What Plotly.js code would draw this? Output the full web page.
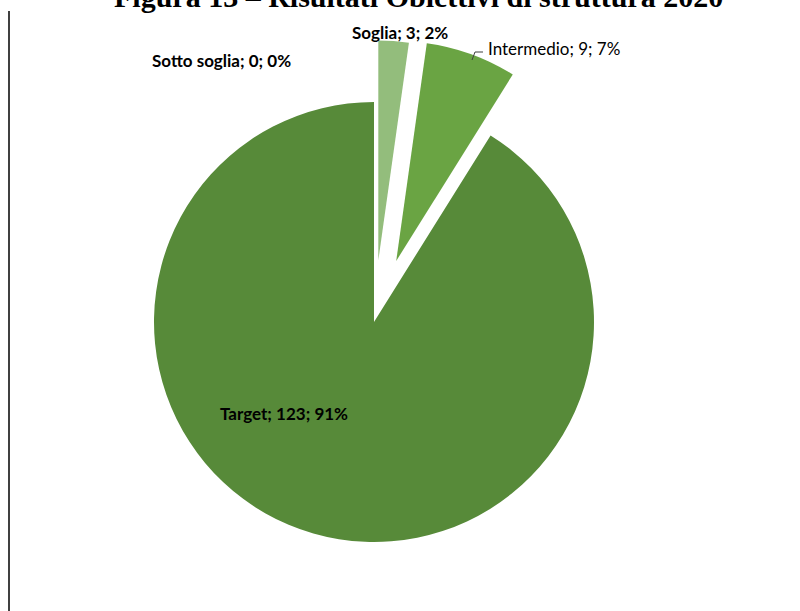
<!DOCTYPE html>
<html>
<head>
<meta charset="utf-8">
<script src="https://cdn.plot.ly/plotly-3.0.1.min.js"></script>
<style>html,body{margin:0;padding:0;background:#fff;}#chart{width:800px;height:611px;}</style>
</head>
<body>
<div id="chart"></div>
<script>
// ---- data ----
const categories = ["Sotto soglia", "Soglia", "Intermedio", "Target"];
const values = [0, 3, 9, 123];
const colors = ["#4F7F33", "#93BD7C", "#6AA443", "#578A39"];
const pulls = [0, 0.28, 0.295, 0];
const chartTitle = "Figura 13 \u2013 Risultati Obiettivi di struttura 2020";

// ---- helpers (pixel -> paper) ----
const W = 800, H = 611;
const px = x => x / W;
const py = y => 1 - y / H;

const total = values.reduce((a, b) => a + b, 0);
const labelText = categories.map((c, i) => c + "; " + values[i] + "; " + Math.round(values[i] / total * 100) + "%");

// label placement (pixel centers) and weight
const labelPos = [[221, 61], [400, 33], [554, 48], [284, 413]];
const labelBold = [true, true, false, true];

const annotations = labelText.map((t, i) => ({
  text: labelBold[i] ? "<b>" + t + "</b>" : t,
  xref: "paper", yref: "paper",
  x: px(labelPos[i][0]), y: py(labelPos[i][1]),
  xanchor: "center", yanchor: "middle",
  showarrow: false,
  font: {family: "Lato, 'Open Sans', sans-serif", size: 17, color: "#000"}
}));

annotations.push({
  text: "<b>" + chartTitle + "</b>",
  xref: "paper", yref: "paper",
  x: px(418), y: py(15),
  xanchor: "center", yanchor: "bottom",
  showarrow: false,
  font: {family: "'Liberation Serif', 'Times New Roman', serif", size: 30, color: "#000"}
});

const cx = 374, cy = 322, r = 220;
const maxPull = Math.max(...pulls);
const half = r * (1 + maxPull);

const trace = {
  type: "pie",
  labels: categories,
  values: values,
  sort: false,
  direction: "clockwise",
  rotation: 0,
  pull: pulls,
  textinfo: "none",
  hoverinfo: "skip",
  showlegend: false,
  marker: {colors: colors, line: {width: 0}},
  domain: {
    x: [px(cx - half), px(cx + half)],
    y: [py(cy + half), py(cy - half)]
  }
};

const layout = {
  width: W, height: H,
  margin: {l: 0, r: 0, t: 0, b: 0},
  paper_bgcolor: "#fff",
  plot_bgcolor: "#fff",
  showlegend: false,
  annotations: annotations,
  shapes: [
    {type: "line", xref: "paper", yref: "paper", x0: px(9), x1: px(9), y0: 0, y1: py(11),
     line: {color: "#000", width: 1.5}},
    {type: "path", xref: "paper", yref: "paper",
     path: "M " + px(483) + "," + py(52) + " L " + px(475) + "," + py(52) + " L " + px(472) + "," + py(60),
     line: {color: "#404040", width: 1}}
  ]
};

Plotly.newPlot("chart", [trace], layout, {displayModeBar: false, staticPlot: true});
</script>
</body>
</html>
